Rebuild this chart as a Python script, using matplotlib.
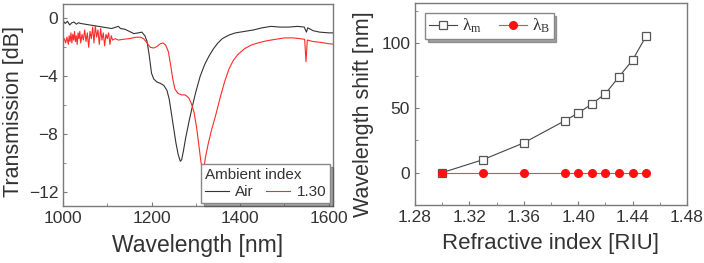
import matplotlib
matplotlib.use("Agg")
import matplotlib.pyplot as plt
from matplotlib.ticker import MultipleLocator, FormatStrFormatter

plt.rcParams['font.family'] = ['Liberation Sans', 'DejaVu Sans']
plt.rcParams['mathtext.fontset'] = 'custom'
plt.rcParams['mathtext.rm'] = 'Liberation Serif'
plt.rcParams['mathtext.it'] = 'Liberation Serif:italic'

# ---- Left panel: transmission spectra ----
air_wl = [1000, 1005, 1010, 1015, 1020, 1025, 1030, 1035, 1040, 1050, 1060, 1070, 1080,
          1090, 1100, 1110, 1120, 1125, 1130, 1140, 1150, 1160, 1170, 1178, 1185, 1190,
          1195, 1200, 1205, 1212, 1220, 1228, 1235, 1240, 1245, 1250, 1255, 1260, 1265,
          1268, 1272, 1277, 1285, 1293, 1300, 1310, 1320, 1330, 1340, 1350, 1360, 1375,
          1390, 1410, 1430, 1450, 1470, 1490, 1510, 1530, 1545, 1550, 1553, 1565, 1580,
          1600, 1615]
air_db = [-0.15, -0.35, -0.2, -0.45, -0.3, -0.25, -0.4, -0.3, -0.35, -0.4, -0.45, -0.5, -0.55,
          -0.6, -0.65, -0.7, -0.6, -0.55, -0.7, -0.75, -0.9, -1.05, -1.0, -0.95, -1.2, -1.6,
          -2.6, -3.8, -4.2, -4.4, -4.5, -4.65, -5.0, -5.6, -6.6, -7.6, -8.6, -9.4, -9.9,
          -9.8, -9.2, -8.3, -7.1, -6.0, -5.1, -4.0, -3.2, -2.6, -2.1, -1.7, -1.4, -1.15,
          -1.0, -0.9, -0.8, -0.65, -0.55, -0.6, -0.6, -0.55, -0.6, -0.95, -0.65, -0.85, -0.95,
          -1.0, -1.0]

ri130_wl = [1000, 1003, 1006, 1009, 1012, 1014, 1016, 1018, 1020, 1022, 1024, 1026, 1028,
            1030, 1032, 1034, 1036, 1038, 1040, 1043, 1046, 1049, 1052, 1055, 1058, 1061,
            1064, 1067, 1070, 1073, 1076, 1079, 1082, 1085, 1088, 1091, 1094, 1097, 1100,
            1103, 1106, 1109, 1112, 1118, 1125, 1135, 1150, 1165, 1175, 1182, 1190, 1197,
            1205, 1212, 1220, 1226, 1232, 1238, 1243, 1248, 1253, 1260, 1268, 1276, 1284,
            1290, 1296, 1302, 1307, 1311, 1315, 1318, 1322, 1328, 1335, 1345, 1355, 1365,
            1375, 1385, 1395, 1410, 1425, 1440, 1460, 1480, 1500, 1520, 1535, 1546, 1549,
            1552, 1565, 1580, 1600, 1615]
ri130_db = [-1.6, -1.4, -1.7, -1.3, -1.8, -1.2, -1.6, -1.0, -1.7, -1.1, -1.5, -0.9, -1.6,
            -1.2, -1.8, -1.0, -1.4, -0.9, -1.7, -1.1, -1.5, -0.8, -1.6, -1.0, -2.0, -0.9,
            -1.4, -0.6, -1.7, -0.5, -1.3, -0.8, -1.8, -0.7, -1.5, -1.0, -1.9, -1.1, -1.4,
            -1.0, -1.8, -1.2, -1.5, -1.4, -1.5, -1.45, -1.4, -1.3, -1.3, -1.4, -1.7, -2.0,
            -2.05, -1.95, -1.75, -1.7, -1.85, -2.3, -3.2, -4.2, -4.9, -5.2, -5.3, -5.3, -5.5,
            -5.9, -6.5, -7.6, -8.8, -9.8, -10.6, -10.4, -9.6, -8.7, -7.8, -6.7, -5.5, -4.4,
            -3.5, -2.9, -2.5, -2.1, -1.85, -1.7, -1.55, -1.45, -1.35, -1.35, -1.4, -1.45, -3.0,
            -1.5, -1.6, -1.65, -1.75, -1.8]

# ---- Right panel: wavelength shift ----
ri = [1.30, 1.33, 1.36, 1.39, 1.40, 1.41, 1.42, 1.43, 1.44, 1.45]
shift_m = [0, 10, 23, 40, 46, 53, 61, 74, 87, 105.5]
shift_b = [0, 0, 0, 0, 0, 0, 0, 0, 0, 0]

txt = '#333333'
spine = '#7a7a7a'

fig = plt.figure(figsize=(7.04, 2.63), dpi=100)
ax1 = fig.add_axes([63/704, 1-206/263, 270/704, 202/263])
ax2 = fig.add_axes([415/704, 1-205/263, 272/704, 202/263])

def style(ax):
    for s in ax.spines.values():
        s.set_color(spine)
        s.set_linewidth(1.0)
    ax.tick_params(which='both', direction='in', colors=spine, labelcolor=txt,
                   labelsize=12.5, top=False, right=False)
    ax.tick_params(which='major', length=3)
    ax.tick_params(which='minor', length=2)

ax1.plot(air_wl, air_db, color='#333333', lw=0.8, label='Air')
ax1.plot(ri130_wl, ri130_db, color='#ff2a2a', lw=0.8, label='1.30')
ax1.set_xlim(1000, 1610)
ax1.set_ylim(-13, 1)
ax1.xaxis.set_major_locator(MultipleLocator(200))
ax1.xaxis.set_minor_locator(MultipleLocator(100))
ax1.yaxis.set_major_locator(MultipleLocator(4))
ax1.yaxis.set_minor_locator(MultipleLocator(2))
style(ax1)
ax1.set_xlabel('Wavelength [nm]', fontsize=16.5, color=txt, labelpad=6)
ax1.set_ylabel('Transmission [dB]', fontsize=15.5, color=txt)
ax1.yaxis.set_label_coords(-0.145, 0.47)
leg1 = ax1.legend(title='Ambient index', ncol=2, loc='lower right', fontsize=11,
                  title_fontsize=11, shadow=True, fancybox=False, framealpha=1,
                  edgecolor='#888888', handlelength=1.6, columnspacing=0.8,
                  handletextpad=0.4, borderpad=0.25, labelspacing=0.2,
                  borderaxespad=0.2)
leg1._legend_box.align = 'left'
for t in leg1.get_texts():
    t.set_color(txt)
leg1.get_title().set_color(txt)

ax2.plot(ri, shift_m, color='#444444', lw=0.8, marker='s', ms=5.5,
         mfc='white', mec='#555555', mew=0.9, label=r'$\mathrm{\lambda_m}$')
ax2.plot(ri, shift_b, color='#ff4040', lw=0.8, marker='o', ms=5.5,
         mfc='#ff1010', mec='#ff1010', label=r'$\mathrm{\lambda_B}$')
ax2.set_xlim(1.28, 1.48)
ax2.set_ylim(-25, 131)
ax2.xaxis.set_major_locator(MultipleLocator(0.04))
ax2.xaxis.set_minor_locator(MultipleLocator(0.02))
ax2.yaxis.set_major_locator(MultipleLocator(50))
ax2.yaxis.set_minor_locator(MultipleLocator(25))
ax2.xaxis.set_major_formatter(FormatStrFormatter('%.2f'))
style(ax2)
ax2.set_xlabel('Refractive index [RIU]', fontsize=16, color=txt, labelpad=6)
ax2.set_ylabel('Wavelength shift [nm]', fontsize=15.5, color=txt)
ax2.yaxis.set_label_coords(-0.15, 0.45)
leg2 = ax2.legend(ncol=2, loc='upper left', fontsize=12.5, shadow=True, fancybox=False,
                  framealpha=1, edgecolor='#888888', handlelength=1.6,
                  columnspacing=1.0, handletextpad=0.3, borderpad=0.2,
                  borderaxespad=0.6)
for t in leg2.get_texts():
    t.set_color(txt)

fig.savefig('out.png', dpi=100)
